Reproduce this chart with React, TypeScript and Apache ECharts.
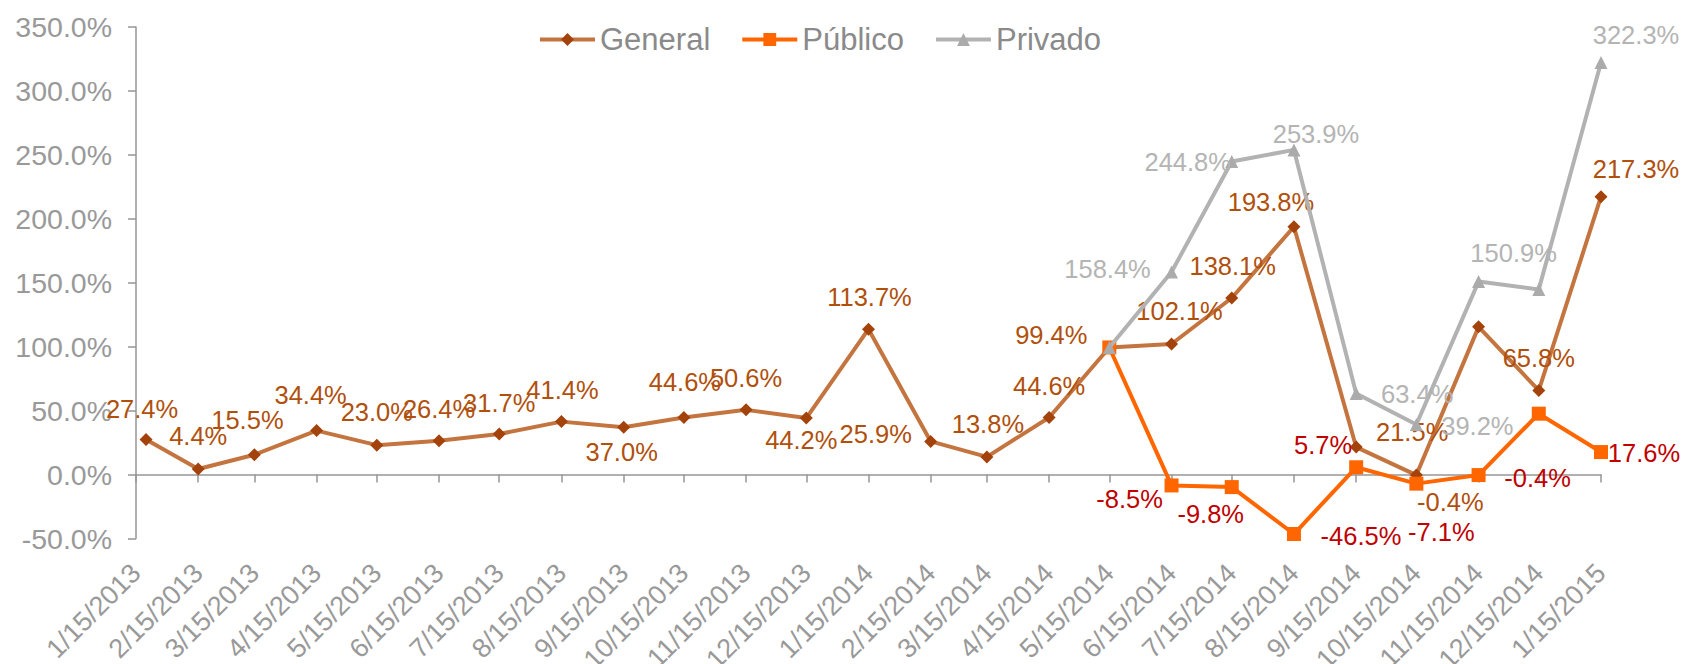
import React, { useEffect, useRef } from "react";
import * as echarts from "echarts";

// Tick labels on the date axis
const tickDates = [
  "1/15/2013", "2/15/2013", "3/15/2013", "4/15/2013", "5/15/2013", "6/15/2013",
  "7/15/2013", "8/15/2013", "9/15/2013", "10/15/2013", "11/15/2013", "12/15/2013",
  "1/15/2014", "2/15/2014", "3/15/2014", "4/15/2014", "5/15/2014", "6/15/2014",
  "7/15/2014", "8/15/2014", "9/15/2014", "10/15/2014", "11/15/2014", "12/15/2014",
  "1/15/2015",
];

// General series
const generalDates = [
  "1/20/2013", "2/15/2013", "3/15/2013", "4/15/2013", "5/15/2013", "6/15/2013",
  "7/15/2013", "8/15/2013", "9/15/2013", "10/15/2013", "11/15/2013", "12/15/2013",
  "1/15/2014", "2/15/2014", "3/15/2014", "4/15/2014", "5/15/2014", "6/15/2014",
  "7/15/2014", "8/15/2014", "9/15/2014", "10/15/2014", "11/15/2014", "12/15/2014",
  "1/15/2015",
];
const generalValues = [
  27.4, 4.4, 15.5, 34.4, 23.0, 26.4, 31.7, 41.4, 37.0, 44.6, 50.6, 44.2,
  113.7, 25.9, 13.8, 44.6, 99.4, 102.1, 138.1, 193.8, 21.5, -0.4, 115.5, 65.8, 217.3,
];

// Público and Privado series
const sectorDates = [
  "5/15/2014", "6/15/2014", "7/15/2014", "8/15/2014", "9/15/2014",
  "10/15/2014", "11/15/2014", "12/15/2014", "1/15/2015",
];
const publicoValues = [99.4, -8.5, -9.8, -46.5, 5.7, -7.1, -0.4, 47.6, 17.6];
const privadoValues = [99.4, 158.4, 244.8, 253.9, 63.4, 39.2, 150.9, 144.8, 322.3];

// y axis
const yMin = -50;
const yMax = 350;
const yStep = 50;

// label placement (style): [dx, dy] offset from the marker, or null = no label
const generalLabelOffsets: ([number, number] | null)[] = [
  [-4, -31], [0, -33], [-7, -35], [-6, -36], [0, -33], [0, -32], [0, -31], [1, -32],
  [-2, 25], [1, -36], [0, -32], [-5, 22], [1, -32], [-55, -7], [1, -33], [0, -32],
  [-58, -12], [8, -33], [1, -32], [-23, -25], [56, -15], [34, 27], null, [0, -32], [35, -28],
];
const publicoLabelOffsets: ([number, number] | null)[] = [
  null, [-42, 14], [-21, 27], [67, 2], [-33, -22], [25, 48], [59, 3], null, [43, 1],
];
const privadoLabelOffsets: ([number, number] | null)[] = [
  null, [-64, -3], [-44, 0], [22, -16], [61, 1], [61, 2], [35, -29], null, [35, -27],
];

const FONT = "'Liberation Sans', Arial, sans-serif";
const AXIS_GRAY = "#969696";

const toDays = (s: string) => {
  const [m, d, y] = s.split("/").map(Number);
  return Math.round((Date.UTC(y, m - 1, d) - Date.UTC(2013, 0, 15)) / 86400000);
};

const fmtPct = (v: number) => v.toFixed(1) + "%";

function buildData(
  dates: string[],
  values: number[],
  offsets: ([number, number] | null)[],
  labelColor: string
) {
  return dates.map((d, i) => {
    const off = offsets[i];
    return {
      value: [toDays(d), values[i]],
      label: off
        ? {
            show: true,
            position: "inside",
            offset: off,
            align: "center",
            verticalAlign: "middle",
            formatter: fmtPct(values[i]),
            fontSize: 25.5,
            fontFamily: FONT,
            color: labelColor,
          }
        : { show: false },
    };
  });
}

export default function App() {
  const ref = useRef<HTMLDivElement>(null);

  useEffect(() => {
    if (!ref.current) return;
    const chart = echarts.init(ref.current, undefined, { renderer: "svg" });
    const tickDays = tickDates.map(toDays);
    const labelMap: Record<number, string> = {};
    tickDates.forEach((t) => (labelMap[toDays(t)] = t));
    const xMax = tickDays[tickDays.length - 1];

    chart.setOption({
      animation: false,
      backgroundColor: "#ffffff",
      grid: {
        left: 136,
        right: 90,
        top: 27,
        bottom: 125.5,
        containLabel: false,
        outerBoundsMode: "none",
      },
      legend: {
        left: 533,
        top: 19,
        itemWidth: 55,
        itemHeight: 16,
        itemGap: 30,
        lineStyle: { width: 4 },
        textStyle: { fontSize: 31, color: "#8a8a8a", fontFamily: FONT },
        data: ["General", "Público", "Privado"],
      },
      xAxis: [
        {
          type: "value",
          min: 0,
          max: xMax,
          position: "bottom",
          axisLine: { show: false, onZero: false },
          axisTick: { show: false },
          splitLine: { show: false },
          axisLabel: {
            customValues: tickDays,
            formatter: (v: number) => labelMap[v] ?? "",
            rotate: 45,
            fontSize: 27,
            color: "#999999",
            fontFamily: FONT,
            margin: 30,
          },
        },
        {
          type: "value",
          min: 0,
          max: xMax,
          position: "bottom",
          axisLine: { show: true, onZero: true, lineStyle: { color: AXIS_GRAY, width: 1.5 } },
          axisTick: {
            show: true,
            customValues: tickDays,
            length: 8,
            lineStyle: { color: AXIS_GRAY, width: 1.5 },
          },
          axisLabel: { show: false },
          splitLine: { show: false },
        },
      ],
      yAxis: {
        type: "value",
        min: yMin,
        max: yMax,
        interval: yStep,
        axisLine: { show: true, onZero: false, lineStyle: { color: AXIS_GRAY, width: 1.5 } },
        axisTick: { show: true, length: 8, lineStyle: { color: AXIS_GRAY, width: 1.5 } },
        splitLine: { show: false },
        axisLabel: {
          formatter: (v: number) => fmtPct(v),
          fontSize: 28.5,
          color: "#999999",
          fontFamily: FONT,
          margin: 24,
        },
      },
      series: [
        {
          name: "General",
          type: "line",
          xAxisIndex: 1,
          symbol: "diamond",
          symbolSize: 13,
          lineStyle: { color: "#C4743E", width: 4 },
          itemStyle: { color: "#A3430B" },
          data: buildData(generalDates, generalValues, generalLabelOffsets, "#B0500C"),
          z: 2,
        },
        {
          name: "Público",
          type: "line",
          xAxisIndex: 1,
          symbol: "rect",
          symbolSize: 14,
          lineStyle: { color: "#FF6600", width: 4 },
          itemStyle: { color: "#FF6600" },
          data: buildData(sectorDates, publicoValues, publicoLabelOffsets, "#C00000"),
          z: 3,
        },
        {
          name: "Privado",
          type: "line",
          xAxisIndex: 1,
          symbol: "triangle",
          symbolSize: 13,
          lineStyle: { color: "#B2B2B2", width: 4 },
          itemStyle: { color: "#ABABAB" },
          data: buildData(sectorDates, privadoValues, privadoLabelOffsets, "#B4B4B4"),
          z: 4,
        },
      ],
    });
    return () => chart.dispose();
  }, []);

  return (
    <div
      ref={ref}
      style={{ position: "absolute", left: 0, top: 0, width: 1691, height: 664 }}
    />
  );
}
